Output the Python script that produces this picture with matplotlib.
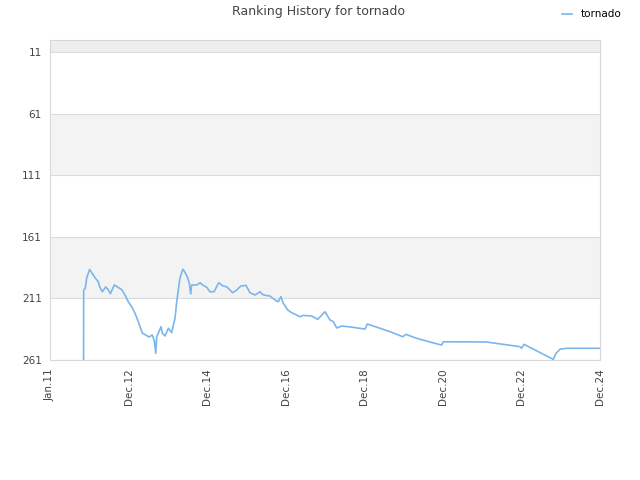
#!/usr/bin/env python3

import datetime as dt
import matplotlib
matplotlib.use('Agg')
import matplotlib.pyplot as plt
import matplotlib.dates as mdates

# ranking history
days = ['2011-11-09', '2011-11-10', '2011-11-25', '2011-12-08', '2011-12-17',
        '2012-01-05', '2012-02-23', '2012-03-25', '2012-04-07', '2012-05-01',
        '2012-06-02', '2012-06-26', '2012-07-15', '2012-08-21', '2012-10-29',
        '2012-11-28', '2012-12-29', '2013-01-29', '2013-03-01', '2013-04-01',
        '2013-05-08', '2013-07-09', '2013-08-09', '2013-08-28', '2013-09-10',
        '2013-09-19', '2013-10-29', '2013-11-10', '2013-12-05', '2014-01-05',
        '2014-02-05', '2014-03-08', '2014-03-24', '2014-04-23', '2014-05-19',
        '2014-05-31', '2014-06-30', '2014-07-19', '2014-08-01', '2014-08-10',
        '2014-09-26', '2014-10-26', '2014-11-21', '2014-12-28', '2015-01-27',
        '2015-03-06', '2015-04-18', '2015-05-31', '2015-07-02', '2015-08-26',
        '2015-10-03', '2015-11-09', '2015-12-28', '2016-02-03', '2016-03-21',
        '2016-05-06', '2016-06-06', '2016-08-07', '2016-09-23', '2016-10-23',
        '2016-11-17', '2016-12-09', '2017-01-19', '2017-02-25', '2017-04-12',
        '2017-05-13', '2017-06-13', '2017-08-30', '2017-10-25', '2017-12-31',
        '2018-02-16', '2018-03-19', '2018-04-19', '2018-06-05', '2018-09-21',
        '2019-01-07', '2019-01-29', '2019-03-25', '2019-08-28', '2019-12-24',
        '2020-01-23', '2020-05-02', '2020-09-02', '2020-12-20', '2021-01-04',
        '2022-02-12', '2022-12-18', '2023-01-03', '2023-01-24', '2023-10-24',
        '2023-11-18', '2023-12-25', '2024-02-25', '2024-12-30']
ranks = [261, 204.2, 202.8, 194.4, 192.0,
         187.5, 194.2, 197.4, 201.5, 205.6,
         201.7, 203.9, 207.2, 200.1, 203.9,
         208.2, 213.7, 217.7, 223.1, 229.9,
         239.1, 242.3, 240.7, 245.6, 255.6,
         242.1, 234.0, 239.3, 241.5, 235.3,
         238.8, 227.2, 213.7, 194.7, 187.4,
         188.5, 193.4, 198.7, 207.4, 200.1,
         200.1, 198.3, 200.1, 202.0, 205.6,
         205.6, 198.3, 201.0, 201.5, 206.4,
         204.2, 201.0, 200.4, 206.4, 208.2,
         205.6, 208.2, 209.1, 212.3, 213.7,
         209.6, 215.0, 220.4, 222.6, 224.5,
         225.9, 224.8, 225.3, 228.0, 221.8,
         228.5, 229.9, 235.0, 233.4, 234.5,
         235.9, 231.8, 233.4, 238.0, 242.1,
         240.2, 243.4, 246.4, 248.9, 246.2,
         246.4, 250.2, 251.5, 248.3, 260.5,
         255.6, 252.3, 251.5, 251.5]
series = 'tornado'

yticks = [11, 61, 111, 161, 211, 261]
xticks = ['2011-01-01', '2012-12-31', '2014-12-31', '2016-12-31',
          '2018-12-31', '2020-12-31', '2022-12-31', '2024-12-31']
xlabels = ['Jan.11', 'Dec.12', 'Dec.14', 'Dec.16', 'Dec.18', 'Dec.20', 'Dec.22', 'Dec.24']


def todate(s):
    return dt.datetime.strptime(s, '%Y-%m-%d')


fig = plt.figure(figsize=(6.4, 4.8), dpi=100)
ax = fig.add_axes([50/640, 1 - 360/480, 550/640, 320/480])

xs = [todate(d) for d in days]
line, = ax.plot(xs, ranks, color='#7cb5ec', linewidth=1.2, label=series)

# alternating bands
ax.axhspan(1.26, 11, color='#eeeeee', zorder=0, lw=0)
ax.axhspan(61, 111, color='#f3f3f3', zorder=0, lw=0)
ax.axhspan(161, 211, color='#f3f3f3', zorder=0, lw=0)

ax.set_ylim(261, 1.26)
ax.set_xlim(todate(xticks[0]), todate(xticks[-1]))
ax.set_yticks(yticks)
ax.set_yticklabels([str(t) for t in yticks])
ax.set_xticks([mdates.date2num(todate(t)) for t in xticks])
ax.set_xticklabels(xlabels, rotation=90)
ax.tick_params(length=0, labelsize=7.5, colors='#444444', pad=6)
ax.grid(axis='y', color='#dddddd', linewidth=0.8)
ax.set_axisbelow(True)
for sp in ax.spines.values():
    sp.set_color('#d8d8d8')
    sp.set_linewidth(0.8)

fig.text(0.497, 0.975, 'Ranking History for tornado', ha='center', va='center',
         fontsize=9, color='#444444')
fig.legend(handles=[line], loc='upper right', bbox_to_anchor=(0.985, 1.0),
           frameon=False, fontsize=7.5, handlelength=1.0, handletextpad=0.8)

fig.savefig('out.png', dpi=100)
